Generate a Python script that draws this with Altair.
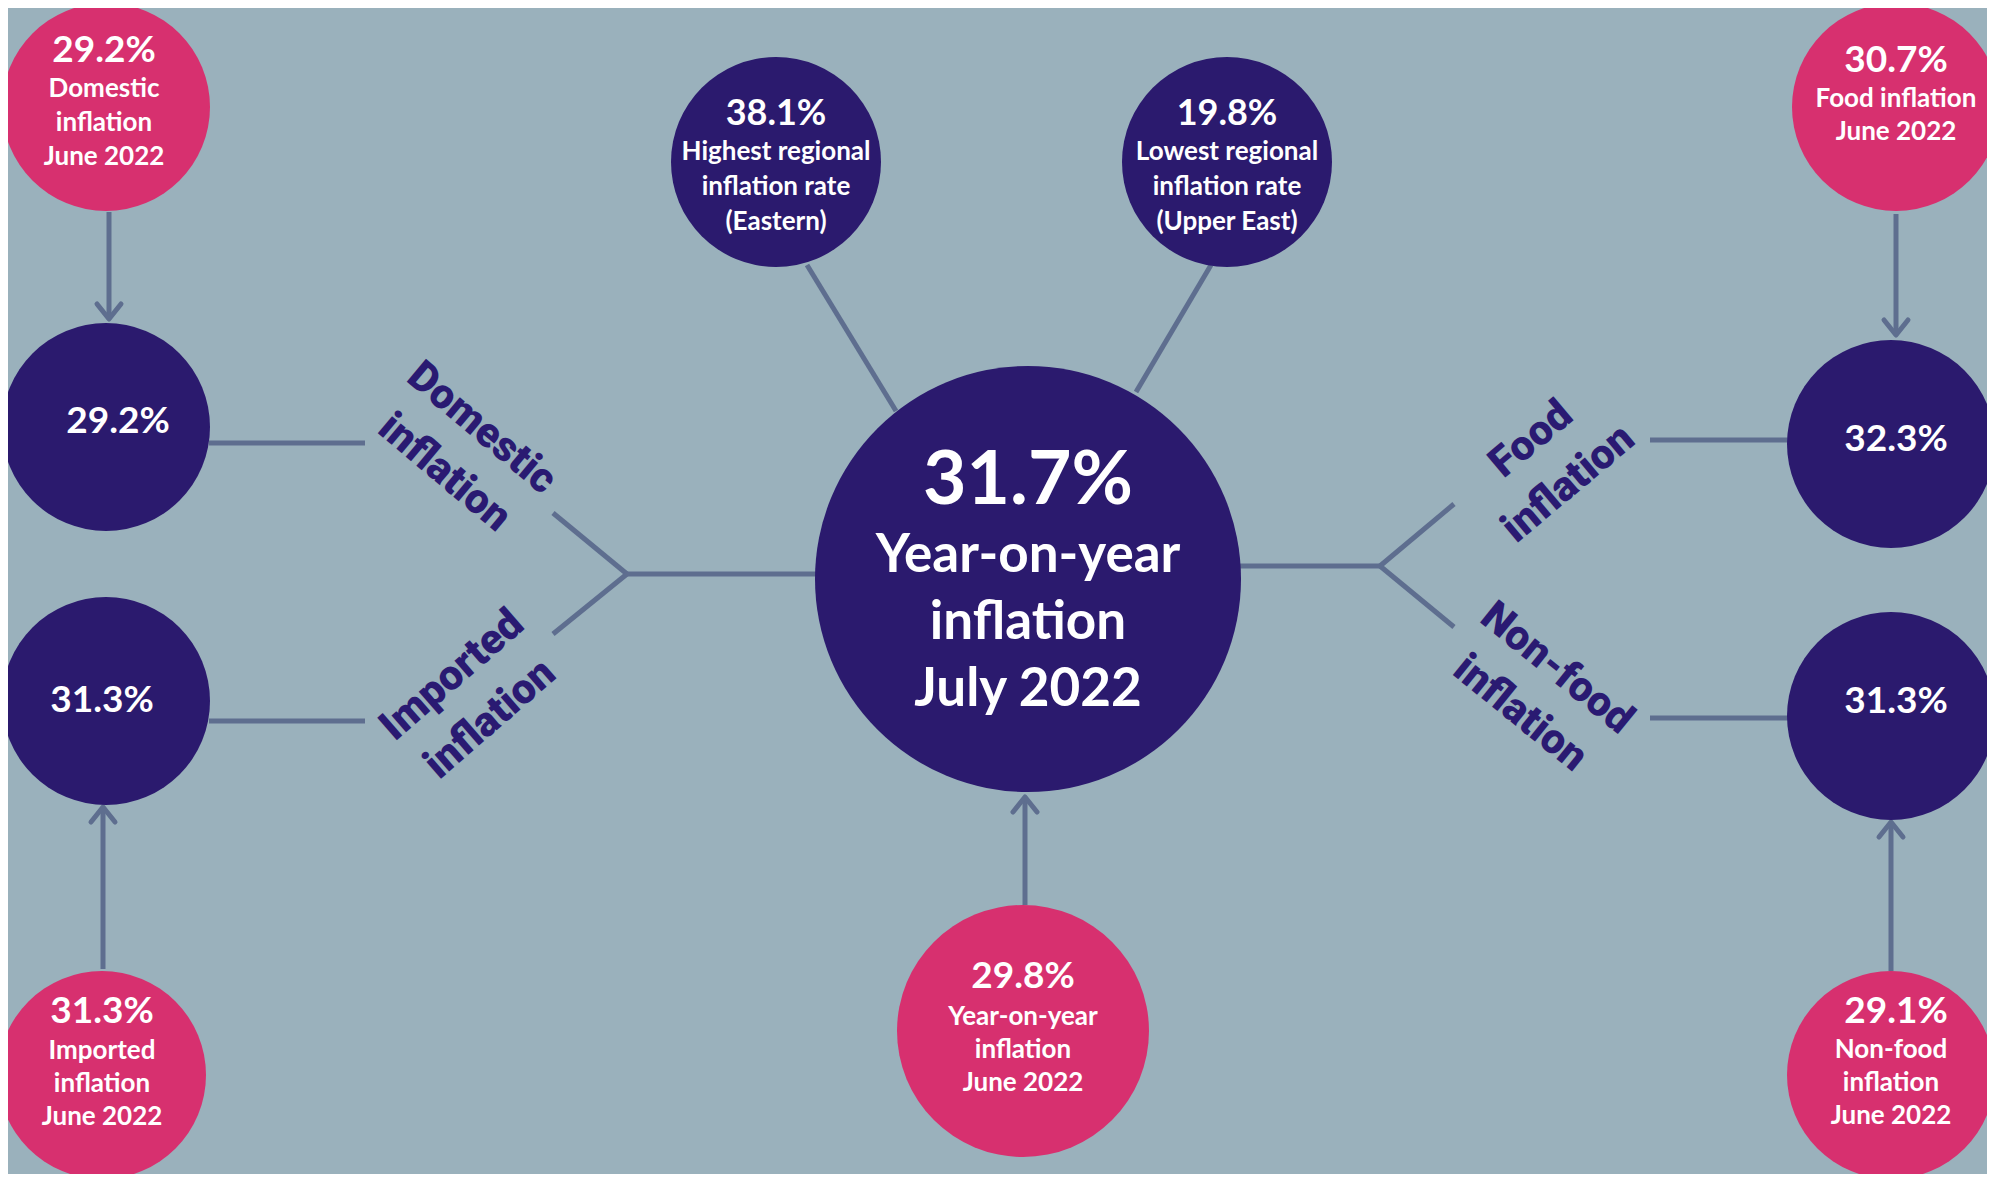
import math
import altair as alt
import pandas as pd

# ---------------- data (values & texts read from the infographic) ----------------
node_ids = ["current", "highest", "lowest", "prev_yoy",
            "dom_prev", "dom", "imp", "imp_prev",
            "food_prev", "food", "nonfood", "nonfood_prev"]
node_values = [31.7, 38.1, 19.8, 29.8,
               29.2, 29.2, 31.3, 31.3,
               30.7, 32.3, 31.3, 29.1]
node_captions = [
    "Year-on-year\ninflation\nJuly 2022",
    "Highest regional\ninflation rate\n(Eastern)",
    "Lowest regional\ninflation rate\n(Upper East)",
    "Year-on-year\ninflation\nJune 2022",
    "Domestic\ninflation\nJune 2022",
    "",
    "",
    "Imported\ninflation\nJune 2022",
    "Food inflation\nJune 2022",
    "",
    "",
    "Non-food\ninflation\nJune 2022",
]
node_kind = ["navy", "navy", "navy", "pink",
             "pink", "navy", "navy", "pink",
             "pink", "navy", "navy", "pink"]

branch_labels = ["Domestic\ninflation", "Imported\ninflation",
                 "Food\ninflation", "Non-food\ninflation"]

# ---------------- layout (positions / sizes / styles) ----------------
BG = "#9AB1BC"
NAVY = "#2B1A6E"
PINK = "#D7306F"
LINE = "#5E6E8F"
LABEL = "#2A1A72"

# cx, cy, radius, value_y, value_size, caption_first_line_y, caption_size, caption_lh, value_x
node_layout = {
    "current":      (1028, 579, 213, 481, 75, 556, 53, 67, 1028),
    "highest":      (776, 162, 105, 114, 36, 152, 26, 35, 776),
    "lowest":       (1227, 162, 105, 114, 36, 152, 26, 35, 1227),
    "prev_yoy":     (1023, 1031, 126, 977, 37, 1017, 26, 33, 1023),
    "dom_prev":     (106, 107, 104, 51, 37, 89, 26, 34, 104),
    "dom":          (106, 427, 104, 422, 37, 0, 26, 34, 118),
    "imp":          (106, 701, 104, 701, 37, 0, 26, 34, 102),
    "imp_prev":     (102, 1075, 104, 1012, 37, 1051, 26, 33, 102),
    "food_prev":    (1896, 107, 104, 61, 37, 99, 26, 33, 1896),
    "food":         (1891, 444, 104, 440, 37, 0, 26, 33, 1896),
    "nonfood":      (1891, 716, 104, 702, 37, 0, 26, 33, 1896),
    "nonfood_prev": (1891, 1075, 104, 1012, 37, 1050, 26, 33, 1896),
}

# branch label placement (centre of first line): x, y, angle
branch_layout = [(482, 428, 40), (452, 675, 319), (1531, 439, 320), (1557, 668, 39)]

# connector segments: x, y, x2, y2
segments = [
    (109, 212, 109, 318),
    (209, 443, 365, 443),
    (209, 721, 365, 721),
    (103, 969, 103, 808),
    (553, 513, 627, 574),
    (627, 574, 553, 634),
    (627, 574, 817, 574),
    (807, 265, 896, 411),
    (1211, 265, 1136, 392),
    (1240, 566, 1380, 566),
    (1380, 566, 1454, 504),
    (1380, 566, 1454, 627),
    (1650, 440, 1788, 440),
    (1650, 718, 1788, 718),
    (1896, 214, 1896, 334),
    (1891, 971, 1891, 823),
    (1025, 905, 1025, 798),
]
# arrow tips: x, y, direction
arrows = [(109, 319, "down"), (1896, 335, "down"),
          (103, 807, "up"), (1891, 822, "up"), (1025, 797, "up")]

# ---------------- build tables ----------------
rows_c, rows_v, rows_t = [], [], []
for nid, val, cap, kind in zip(node_ids, node_values, node_captions, node_kind):
    cx, cy, r, vy, vs, capy, cs, clh, vx = node_layout[nid]
    rows_c.append(dict(id=nid, x=cx, y=cy, size=(2 * r) ** 2,
                       color=NAVY if kind == "navy" else PINK))
    rows_v.append(dict(id=nid, x=vx, y=vy, text=f"{val:.1f}%", fs=vs))
    if cap:
        rows_t.append(dict(id=nid, x=cx if nid != "dom_prev" else vx, y=capy,
                           text=cap, fs=cs, lh=clh))
circles = pd.DataFrame(rows_c)
values_df = pd.DataFrame(rows_v)
captions_df = pd.DataFrame(rows_t)
seg_df = pd.DataFrame(segments, columns=["x", "y", "x2", "y2"])
arr_df = pd.DataFrame(arrows, columns=["x", "y", "dir"])
br_df = pd.DataFrame([dict(text=t, x=l[0], y=l[1], angle=l[2])
                      for t, l in zip(branch_labels, branch_layout)])

W, H = 1979, 1166
xs = alt.Scale(domain=[8, 8 + W], nice=False, zero=False)
ys = alt.Scale(domain=[8, 8 + H], nice=False, zero=False, reverse=True)
X = lambda f="x": alt.X(f"{f}:Q", scale=xs, axis=None)
Y = lambda f="y": alt.Y(f"{f}:Q", scale=ys, axis=None)

lines = alt.Chart(seg_df).mark_rule(color=LINE, strokeWidth=5).encode(
    x=X(), y=Y(), x2="x2:Q", y2="y2:Q")

down_path = "M -1 -1.25 L 0 0 L 1 -1.25"
up_path = "M -1 1.25 L 0 0 L 1 1.25"
arr_down = alt.Chart(arr_df).transform_filter(alt.datum.dir == "down").mark_point(
    shape=down_path, filled=False, stroke=LINE, strokeWidth=5, size=576,
    strokeCap="round", strokeJoin="round", opacity=1).encode(x=X(), y=Y())
arr_up = alt.Chart(arr_df).transform_filter(alt.datum.dir == "up").mark_point(
    shape=up_path, filled=False, stroke=LINE, strokeWidth=5, size=576,
    strokeCap="round", strokeJoin="round", opacity=1).encode(x=X(), y=Y())

dots = alt.Chart(circles).mark_circle(opacity=1).encode(
    x=X(), y=Y(),
    size=alt.Size("size:Q", scale=None, legend=None),
    color=alt.Color("color:N", scale=None, legend=None))

vals = alt.Chart(values_df).mark_text(
    font="Lato", fontWeight="bold", color="white", align="center", baseline="middle"
).encode(x=X(), y=Y(), text="text:N", size=alt.Size("fs:Q", scale=None, legend=None))

caps_layers = []
for (fs, lh), sub in captions_df.groupby(["fs", "lh"]):
    caps_layers.append(alt.Chart(sub).mark_text(
        font="Lato", fontWeight="bold", color="white", align="center",
        baseline="middle", lineBreak="\n", fontSize=float(fs), lineHeight=float(lh)
    ).encode(x=X(), y=Y(), text="text:N"))

branch = alt.Chart(br_df).mark_text(
    font="Roboto", fontWeight=900, color=LABEL, align="center", baseline="middle",
    lineBreak="\n", fontSize=42, lineHeight=58
).encode(x=X(), y=Y(), text="text:N", angle=alt.Angle("angle:Q", scale=None))

chart = alt.layer(lines, arr_down, arr_up, dots, vals, *caps_layers, branch).properties(
    width=W, height=H, padding=0, autosize=alt.AutoSizeParams(type="none"),
    background=BG
).configure_view(stroke=None)

chart.save("out.html", embed_options={"renderer": "svg", "actions": False})
